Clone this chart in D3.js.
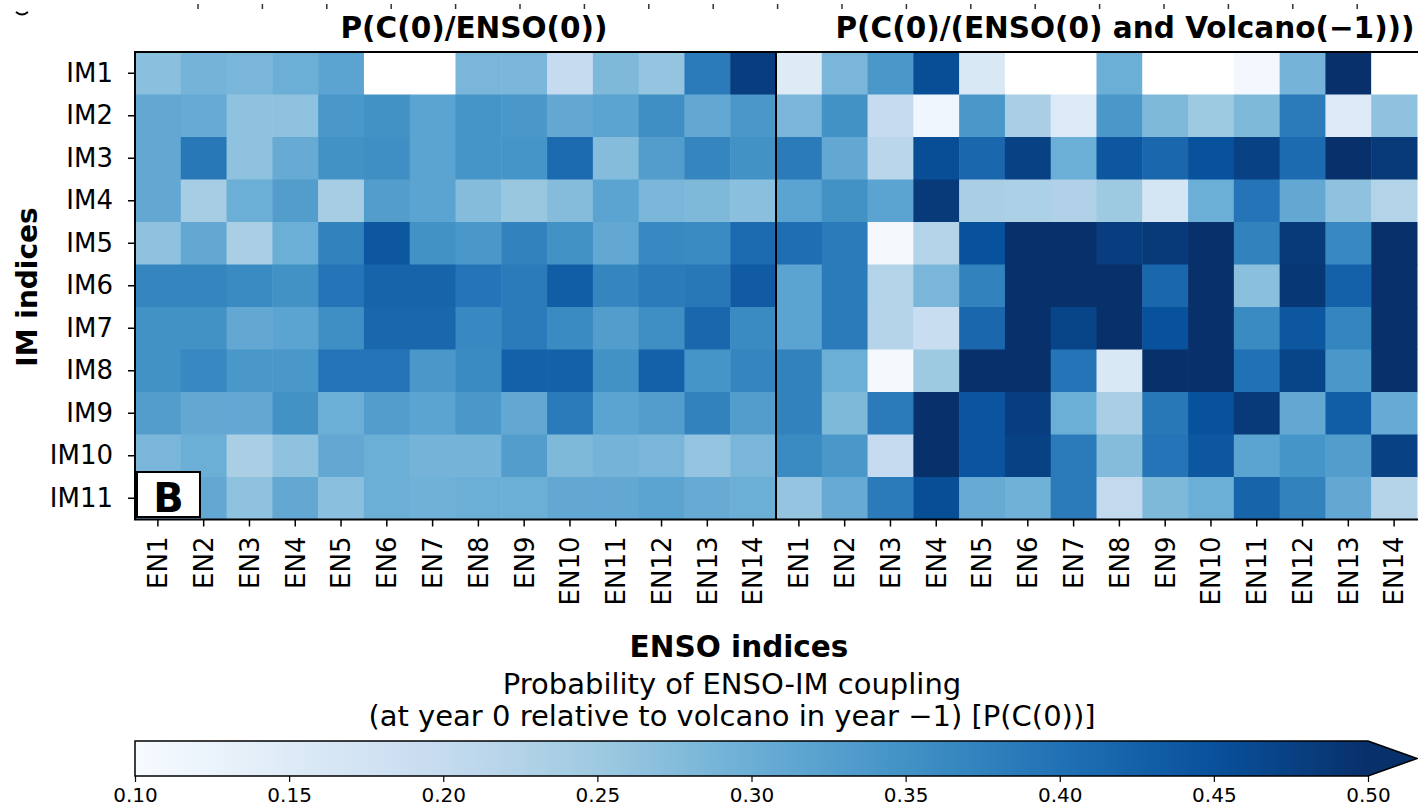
<!DOCTYPE html>
<html>
<head>
<meta charset="utf-8">
<script src="https://cdn.jsdelivr.net/npm/d3@7"></script>
<style>
  body { margin: 0; background: #fff; }
  text { font-family: "DejaVu Sans", sans-serif; }
</style>
</head>
<body>
<svg id="chart" width="1418" height="809"></svg>
<script>
// rows and columns
var imIdx = ["IM1","IM2","IM3","IM4","IM5","IM6","IM7","IM8","IM9","IM10","IM11"];
var enIdx = ["EN1","EN2","EN3","EN4","EN5","EN6","EN7","EN8","EN9","EN10","EN11","EN12","EN13","EN14"];

// P(C(0)/ENSO(0)), null = no value (white)
var pEnso = [
  [0.27,0.29,0.285,0.30,0.32,null,null,0.285,0.285,0.20,0.28,0.26,0.385,0.48],
  [0.31,0.305,0.265,0.265,0.34,0.35,0.32,0.345,0.34,0.31,0.32,0.355,0.31,0.34],
  [0.31,0.39,0.265,0.305,0.35,0.355,0.32,0.345,0.345,0.41,0.275,0.33,0.37,0.35],
  [0.31,0.24,0.30,0.33,0.24,0.33,0.32,0.275,0.255,0.275,0.32,0.285,0.28,0.27],
  [0.265,0.31,0.235,0.30,0.375,0.44,0.35,0.34,0.375,0.35,0.31,0.365,0.36,0.41],
  [0.37,0.37,0.36,0.35,0.395,0.42,0.42,0.395,0.385,0.43,0.37,0.385,0.39,0.435],
  [0.35,0.35,0.31,0.32,0.355,0.415,0.415,0.365,0.385,0.36,0.33,0.355,0.415,0.36],
  [0.35,0.365,0.34,0.34,0.395,0.395,0.34,0.36,0.425,0.425,0.35,0.425,0.345,0.37],
  [0.33,0.31,0.31,0.35,0.30,0.33,0.32,0.34,0.31,0.385,0.32,0.33,0.375,0.33],
  [0.285,0.30,0.235,0.265,0.31,0.30,0.29,0.29,0.33,0.28,0.29,0.285,0.26,0.285],
  [0.30,0.31,0.265,0.31,0.27,0.30,0.295,0.30,0.30,0.31,0.31,0.32,0.305,0.30]
];

// P(C(0)/(ENSO(0) and Volcano(-1)))
var pVolc = [
  [0.15,0.285,0.34,0.455,0.16,null,null,0.30,null,null,0.11,0.29,0.50,null],
  [0.285,0.35,0.20,0.115,0.34,0.235,0.155,0.34,0.28,0.25,0.28,0.385,0.155,0.265],
  [0.385,0.31,0.215,0.455,0.415,0.475,0.30,0.44,0.415,0.45,0.475,0.41,0.50,0.485],
  [0.32,0.35,0.32,0.485,0.235,0.233,0.228,0.25,0.17,0.30,0.395,0.31,0.265,0.225],
  [0.405,0.385,0.105,0.225,0.45,0.52,0.52,0.48,0.485,0.52,0.375,0.485,0.365,0.52],
  [0.32,0.385,0.225,0.285,0.375,0.52,0.52,0.52,0.415,0.51,0.27,0.49,0.425,0.51],
  [0.32,0.385,0.22,0.195,0.415,0.52,0.47,0.52,0.45,0.52,0.36,0.44,0.37,0.52],
  [0.375,0.30,0.105,0.25,0.52,0.52,0.395,0.16,0.52,0.52,0.40,0.47,0.34,0.52],
  [0.375,0.28,0.385,0.52,0.445,0.48,0.30,0.235,0.39,0.45,0.485,0.31,0.43,0.305],
  [0.36,0.34,0.20,0.52,0.445,0.475,0.385,0.275,0.395,0.44,0.32,0.345,0.33,0.475],
  [0.26,0.305,0.385,0.455,0.305,0.295,0.385,0.205,0.28,0.30,0.42,0.375,0.31,0.22]
];

var cbTicks = [0.10,0.15,0.20,0.25,0.30,0.35,0.40,0.45,0.50];

// layout
var plotTop = 52, plotBottom = 519.5, plotLeft = 135, plotMid = 776;
var panelW = plotMid - plotLeft;

var svg = d3.select("#chart");

// matplotlib "Blues"
var blues = ["#f7fbff","#deebf7","#c6dbef","#9ecae1","#6baed6","#4292c6","#2171b5","#08519c","#08306b"];
var color = d3.scaleLinear()
  .domain(blues.map(function(d, i) { return 0.10 + i * 0.05; }))
  .range(blues)
  .clamp(true);

var y = d3.scaleBand().domain(imIdx).range([plotTop, plotBottom]);
var x1 = d3.scaleBand().domain(enIdx).range([plotLeft, plotMid]);
var x2 = d3.scaleBand().domain(enIdx).range([plotMid, plotMid + panelW]);

function cells(mat) {
  var out = [];
  mat.forEach(function(row, i) {
    row.forEach(function(v, j) { out.push({im: imIdx[i], en: enIdx[j], v: v}); });
  });
  return out;
}

function drawPanel(mat, x) {
  svg.append("g").selectAll("rect")
    .data(cells(mat))
    .enter()
    .append("rect")
      .attr("x", function(d) { return x(d.en); })
      .attr("y", function(d) { return y(d.im); })
      .attr("width", x.bandwidth() + 0.5)
      .attr("height", y.bandwidth() + 0.5)
      .attr("fill", function(d) { return d.v == null ? "#ffffff" : color(d.v); });

  var xa = svg.append("g")
    .attr("transform", "translate(0," + plotBottom + ")")
    .call(d3.axisBottom(x).tickSize(7).tickPadding(10));
  xa.select(".domain").remove();
  xa.selectAll("line").attr("stroke", "#000").attr("stroke-width", 1.5);
  xa.selectAll("text")
    .attr("font-size", 26)
    .attr("fill", "#000")
    .attr("transform", "rotate(-90)")
    .attr("x", -17)
    .attr("y", 0)
    .attr("dy", "0.36em")
    .style("text-anchor", "end");
}

drawPanel(pEnso, x1);
drawPanel(pVolc, x2);

// y axis
var ya = svg.append("g")
  .attr("transform", "translate(" + plotLeft + ",0)")
  .call(d3.axisLeft(y).tickSize(7).tickPadding(15));
ya.select(".domain").remove();
ya.selectAll("line").attr("stroke", "#000").attr("stroke-width", 1.5);
ya.selectAll("text").attr("font-size", 26).attr("fill", "#000");

// frames
svg.append("rect")
  .attr("x", plotLeft).attr("y", plotTop)
  .attr("width", panelW * 2 + 2).attr("height", plotBottom - plotTop)
  .attr("fill", "none").attr("stroke", "#000").attr("stroke-width", 2);
svg.append("line")
  .attr("x1", plotMid).attr("x2", plotMid)
  .attr("y1", plotTop).attr("y2", plotBottom)
  .attr("stroke", "#000").attr("stroke-width", 2);

// panel letter
svg.append("rect")
  .attr("x", 137).attr("y", 472).attr("width", 63).attr("height", 45)
  .attr("fill", "#fff").attr("stroke", "#000").attr("stroke-width", 2);
svg.append("text")
  .attr("x", 168.5).attr("y", 512)
  .attr("text-anchor", "middle")
  .attr("font-size", 40).attr("font-weight", "bold")
  .text("B");

// titles
svg.append("text")
  .attr("x", 474).attr("y", 38)
  .attr("text-anchor", "middle")
  .attr("font-size", 29.5).attr("font-weight", "bold")
  .text("P(C(0)/ENSO(0))");
svg.append("text")
  .attr("x", 1125).attr("y", 38)
  .attr("text-anchor", "middle")
  .attr("font-size", 29.5).attr("font-weight", "bold")
  .text("P(C(0)/(ENSO(0) and Volcano(\u22121)))");

// axis labels
svg.append("text")
  .attr("transform", "translate(37,287) rotate(-90)")
  .attr("text-anchor", "middle")
  .attr("font-size", 28).attr("font-weight", "bold")
  .text("IM indices");
svg.append("text")
  .attr("x", 739).attr("y", 657)
  .attr("text-anchor", "middle")
  .attr("font-size", 29.5).attr("font-weight", "bold")
  .text("ENSO indices");

// bits of the panel above, cut off at the top edge
svg.append("g").selectAll("line")
  .data(d3.range(20))
  .enter()
  .append("line")
    .attr("x1", function(d) { return 198 + d * 64.4; })
    .attr("x2", function(d) { return 198 + d * 64.4; })
    .attr("y1", 4).attr("y2", 9)
    .attr("stroke", "#333").attr("stroke-width", 1.5);
svg.append("path")
  .attr("d", "M16,12 Q22,17 28,12")
  .attr("fill", "none").attr("stroke", "#000").attr("stroke-width", 2);

// colorbar
var cbLeft = 135, cbRight = 1368, cbTop = 741, cbBottom = 776;
var cbX = d3.scaleLinear().domain([0.10, 0.50]).range([cbLeft, cbRight]);

var grad = svg.append("defs").append("linearGradient")
  .attr("id", "cbgrad").attr("x1", "0%").attr("x2", "100%");
grad.selectAll("stop")
  .data(blues)
  .enter()
  .append("stop")
    .attr("offset", function(d, i) { return (i / (blues.length - 1) * 100) + "%"; })
    .attr("stop-color", function(d) { return d; });

svg.append("rect")
  .attr("x", cbLeft).attr("y", cbTop)
  .attr("width", cbRight - cbLeft).attr("height", cbBottom - cbTop)
  .attr("fill", "url(#cbgrad)");
svg.append("path")
  .attr("d", "M" + cbRight + "," + cbTop + "L1417," + ((cbTop + cbBottom) / 2) + "L" + cbRight + "," + cbBottom + "Z")
  .attr("fill", blues[8]);
svg.append("path")
  .attr("d", "M" + cbLeft + "," + cbTop + "L" + cbRight + "," + cbTop + "L1417," + ((cbTop + cbBottom) / 2) +
             "L" + cbRight + "," + cbBottom + "L" + cbLeft + "," + cbBottom + "Z")
  .attr("fill", "none").attr("stroke", "#000").attr("stroke-width", 1.5);

var cba = svg.append("g")
  .attr("transform", "translate(0," + cbBottom + ")")
  .call(d3.axisBottom(cbX).tickValues(cbTicks).tickFormat(d3.format(".2f")).tickSize(6).tickPadding(6));
cba.select(".domain").remove();
cba.selectAll("line").attr("stroke", "#000").attr("stroke-width", 1.2);
cba.selectAll("text").attr("font-size", 20).attr("fill", "#000");

svg.append("text")
  .attr("x", 732).attr("y", 694)
  .attr("text-anchor", "middle")
  .attr("font-size", 29)
  .text("Probability of ENSO-IM coupling");
svg.append("text")
  .attr("x", 732).attr("y", 726)
  .attr("text-anchor", "middle")
  .attr("font-size", 29)
  .text("(at year 0 relative to volcano in year \u22121) [P(C(0))]");
</script>
</body>
</html>
